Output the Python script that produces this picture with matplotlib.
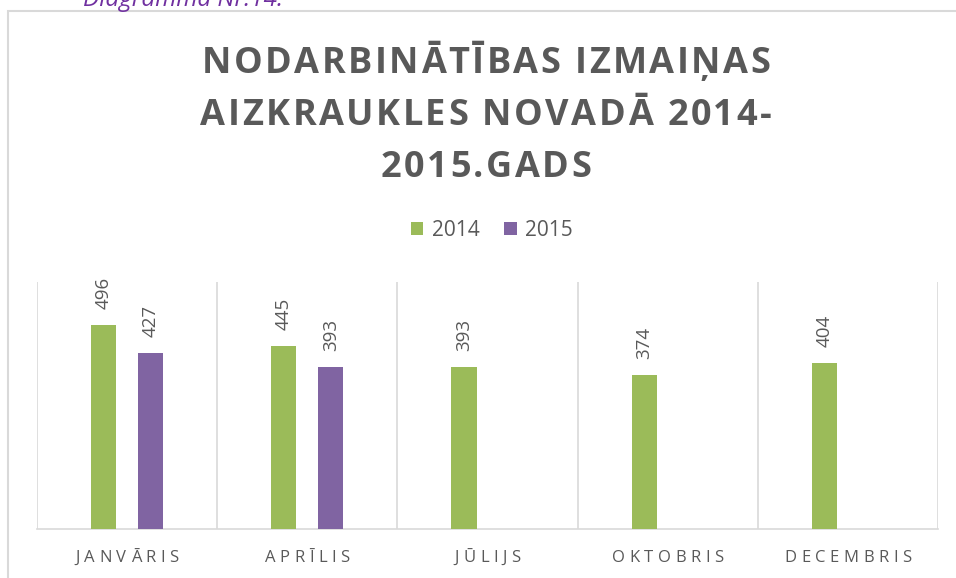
import matplotlib
matplotlib.use('Agg')
import matplotlib.pyplot as plt
from matplotlib.patches import Rectangle
import numpy as np

plt.rcParams['font.family'] = ['Open Sans', 'DejaVu Sans']

# data
months = ['JANVĀRIS', 'APRĪLIS', 'JŪLIJS', 'OKTOBRIS', 'DECEMBRIS']
series_names = ['2014', '2015']
values_2014 = [496, 445, 393, 374, 404]
values_2015 = [427, 393, None, None, None]
title_lines = ['NODARBINĀTĪBAS IZMAIŅAS', 'AIZKRAUKLES NOVADĀ 2014-', '2015.GADS']

green = '#9BBB59'
purple = '#8064A2'
gray_txt = '#595959'
grid_col = '#D9D9D9'

W, H = 956, 578
fig = plt.figure(figsize=(W / 100, H / 100), dpi=100)
renderer = fig.canvas.get_renderer()


def tracked_text(s, cx, y_px, track, **kw):
    # draw text letter by letter with extra spacing, centred on cx (pixels)
    fs_px = kw.get('fontsize', 10) * 100 / 72
    widths = []
    for ch in s:
        if ch == ' ':
            widths.append(fs_px * 0.26)
        else:
            t = fig.text(0, 0, ch, **kw)
            widths.append(t.get_window_extent(renderer).width)
            t.remove()
    total = sum(widths) + track * (len(s) - 1)
    x = cx - total / 2
    for ch, w in zip(s, widths):
        if ch != ' ':
            fig.text(x / W, 1 - y_px / H, ch, ha='left', va='baseline', **kw)
        x += w + track


# outer chart border (runs off right / bottom edge)
fig.patches.append(Rectangle((8 / W, -0.05), 1.1, 1 - 11 / H + 0.05,
                             transform=fig.transFigure, fill=False,
                             edgecolor=grid_col, linewidth=1.5))

# caption above the chart, cut off at the top
fig.text(83 / W, 1 - 6 / H, 'Diagramma Nr.14.', color='#7030A0',
         fontsize=17.5, style='italic', ha='left', va='baseline')

# title
for i, line in enumerate(title_lines):
    tracked_text(line, 486, 73 + 52 * i, 2.5, fontsize=26, fontweight='bold',
                 color=gray_txt)

ax = fig.add_axes([37 / W, 49 / H, 901 / W, 247 / H])
x = np.arange(len(months))
bw = 0.14
off = 0.13
v15 = [np.nan if v is None else v for v in values_2015]
b1 = ax.bar(x - off, values_2014, bw, color=green, zorder=3, label=series_names[0])
b2 = ax.bar(x + off, v15, bw, color=purple, zorder=3, label=series_names[1])

for xi, v in zip(x - off, values_2014):
    ax.annotate(str(v), (xi, v), xytext=(0, 11.5), textcoords='offset points',
                rotation=90, ha='center', va='bottom', fontsize=13.5, color=gray_txt)
for xi, v in zip(x + off, values_2015):
    if v is not None:
        ax.annotate(str(v), (xi, v), xytext=(0, 11.5), textcoords='offset points',
                    rotation=90, ha='center', va='bottom', fontsize=13.5, color=gray_txt)

ax.set_xlim(-0.5, len(months) - 0.5)
ax.set_ylim(0, 600)
for k in range(len(months) + 1):
    ax.axvline(k - 0.5, color=grid_col, linewidth=1.2, zorder=1)
for s in ['top', 'right', 'left']:
    ax.spines[s].set_visible(False)
ax.spines['bottom'].set_color(grid_col)
ax.spines['bottom'].set_linewidth(1.2)
ax.set_yticks([])
ax.set_xticks([])

# category labels with letter spacing
for xi, m in zip(x, months):
    cx = 37 + (xi + 0.5) * 901 / len(months)
    tracked_text(m, cx, 562, 4.5, fontsize=12, color=gray_txt)

leg = fig.legend(handles=[b1, b2], loc='center', bbox_to_anchor=(492 / W, 1 - 230 / H),
                 ncol=2, frameon=False, fontsize=15, handlelength=0.6, handleheight=0.6,
                 handletextpad=0.4, columnspacing=1.2, labelcolor=gray_txt)

fig.savefig('out.png', dpi=100)
